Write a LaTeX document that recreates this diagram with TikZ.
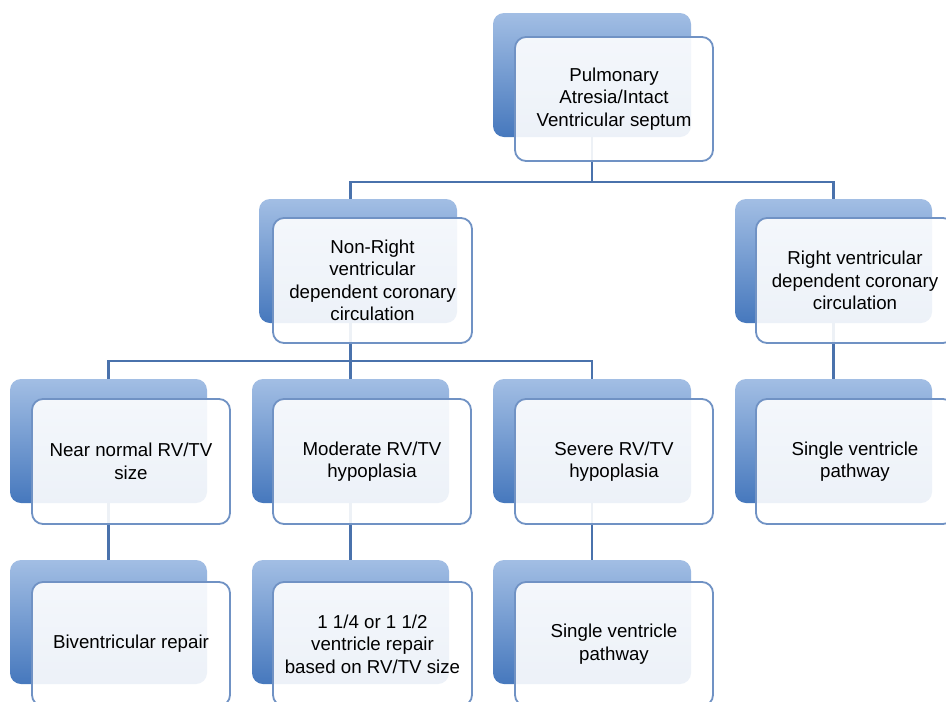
\documentclass[tikz,border=0pt]{standalone}
\usepackage{fontspec}
\setmainfont{Liberation Sans}
\definecolor{backtop}{RGB}{162,190,228}
\definecolor{backbot}{RGB}{70,120,189}
\definecolor{frontline}{RGB}{112,146,196}
\definecolor{connline}{RGB}{74,114,172}
\definecolor{txt}{RGB}{0,0,0}
\tikzset{
  backbox/.style={rounded corners=11pt, top color=backtop, bottom color=backbot, draw=none, inner sep=0pt},
  frontbox/.style={rounded corners=11pt, draw=frontline, line width=1.8pt, fill=white, fill opacity=0.9, text opacity=1, text=txt, align=center, inner sep=0pt, font=\fontsize{18.7pt}{22.5pt}\selectfont},
  conn/.style={draw=connline, line width=2.4pt}
}
\newcommand{\backbx}[5]{\node[backbox, minimum width={#4-#2}, minimum height={#5-#3}] (#1) at ({(#2+#4)/2},{(#3+#5)/2}) {};}
\newcommand{\frontbx}[6]{\node[frontbox, minimum width={#4-#2}, minimum height={#5-#3}] (#1) at ({(#2+#4)/2},{(#3+#5)/2}) {#6};}
\begin{document}
\begin{tikzpicture}[x=1pt,y=-1pt]
\useasboundingbox (0,0) rectangle (946,702);
\clip (0,0) rectangle (946,702);
\fill[white] (0,0) rectangle (946,702);
% back boxes
\backbx{b1}{493}{13}{691}{137}
\backbx{b2}{259}{199}{457}{323}
\backbx{b3}{735}{199}{932}{323}
\backbx{b4}{10}{379}{207}{503}
\backbx{b5}{252}{379}{449}{503}
\backbx{b6}{493}{379}{691}{503}
\backbx{b7}{735}{379}{932}{503}
\backbx{b8}{10}{560}{207}{684}
\backbx{b9}{252}{560}{449}{684}
\backbx{b10}{493}{560}{691}{684}
% connectors
\coordinate (bus1) at (0,182);
\coordinate (bus2) at (0,361);
\draw[conn] (b1.south) -- (b1.south |- bus1);
\draw[conn] (b2.north -| b5.north) |- (bus1 -| b1.south) -| (b3.north);
\draw[conn] (b2.south -| b5.north) -- (b5.north);
\draw[conn] (b4.north) |- (bus2 -| b5.north) -| (b6.north);
\draw[conn] (b3.south) -- (b7.north);
\draw[conn] (b4.south) -- (b8.north);
\draw[conn] (b5.south) -- (b9.north);
\draw[conn] (b6.south) -- (b10.north);
% front boxes
\frontbx{f1}{515}{37}{713}{161}{Pulmonary\\Atresia/Intact\\Ventricular septum}
\frontbx{f2}{273}{218}{472}{343}{Non-Right\\ventricular\\dependent coronary\\circulation}
\frontbx{f3}{756}{218}{954}{343}{Right ventricular\\dependent coronary\\circulation}
\frontbx{f4}{32}{399}{230}{524}{Near normal RV/TV\\size}
\frontbx{f5}{273}{399}{471}{524}{Moderate RV/TV\\hypoplasia}
\frontbx{f6}{515}{399}{713}{524}{Severe RV/TV\\hypoplasia}
\frontbx{f7}{756}{399}{954}{524}{Single ventricle\\pathway}
\frontbx{f8}{32}{582}{230}{706}{Biventricular repair}
\frontbx{f9}{273}{582}{472}{706}{1 1/4 or 1 1/2\\ventricle repair\\based on RV/TV size}
\frontbx{f10}{515}{582}{713}{706}{Single ventricle\\pathway}
\end{tikzpicture}
\end{document}
